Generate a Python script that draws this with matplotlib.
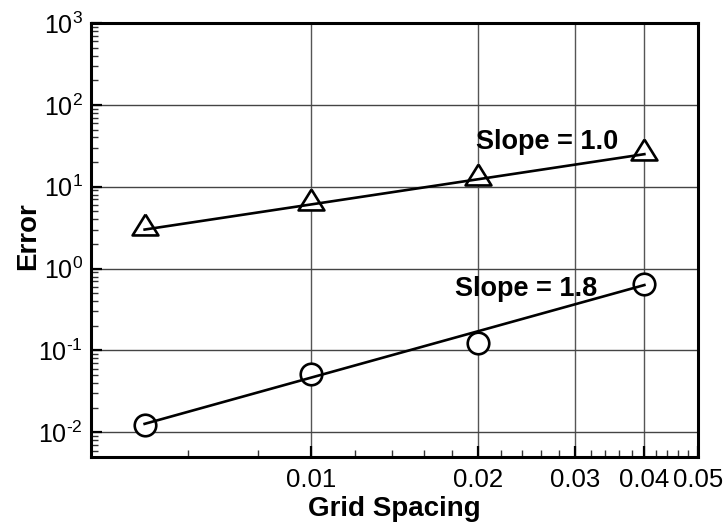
import matplotlib
matplotlib.use("Agg")
import matplotlib.pyplot as plt
from matplotlib.ticker import FixedLocator, FuncFormatter, LogLocator, NullFormatter
import numpy as np

plt.rcParams['font.family'] = ['Liberation Sans', 'DejaVu Sans']
plt.rcParams['mathtext.fontset'] = 'custom'
plt.rcParams['mathtext.rm'] = 'Liberation Sans'
plt.rcParams['mathtext.it'] = 'Liberation Sans'

# ---- data ----
grid_spacing = [0.005, 0.01, 0.02, 0.04]
err_triangle = [3.1, 6.3, 12.8, 25.5]
err_circle = [0.0122, 0.051, 0.125, 0.65]

fit_x = [0.005, 0.04]
fit_triangle = [3.0, 25.0]
fit_circle = [0.0127, 0.63]

x_major = [0.01, 0.02, 0.03, 0.04, 0.05]
x_major_labels = ['0.01', '0.02', '0.03', '0.04', '0.05']
x_minor = [0.004, 0.006, 0.008, 0.012, 0.014, 0.016, 0.018, 0.022, 0.024, 0.026,
           0.028, 0.032, 0.034, 0.036, 0.038, 0.042, 0.044, 0.046, 0.048]
x_grid = [0.01, 0.02, 0.03, 0.04]
y_decades = [-2, -1, 0, 1, 2, 3]

label_slope1 = 'Slope = 1.0'
label_slope2 = 'Slope = 1.8'


def ylab(v, p):
    e = int(round(np.log10(v)))
    if e < 0:
        return r'$\mathregular{10^{\text{-}%d}}$' % (-e)
    return r'$\mathregular{10^{%d}}$' % e


fig = plt.figure(figsize=(7.25, 5.22), dpi=100)
ax = fig.add_axes([91/725, 1-457/522, (698-91)/725, (457-23)/522])
ax.set_xscale('log')
ax.set_yscale('log')
ax.set_xlim(0.004, 0.05)
ax.set_ylim(10**-2.301, 1000)

# grid
for gx in x_grid:
    ax.axvline(gx, color='#555555', lw=1.0, zorder=1)
for d in y_decades:
    ax.axhline(10.0**d, color='#444444', lw=1.0, zorder=1)

# triangle marker centered at centroid
tri = [(0, 2/3), (-0.62, -1/3), (0.62, -1/3), (0, 2/3)]

ax.plot(grid_spacing, err_triangle, linestyle='none', marker=tri, markersize=20,
        markerfacecolor='white', markeredgecolor='black', markeredgewidth=1.9, zorder=3)
ax.plot(grid_spacing, err_circle, linestyle='none', marker='o', markersize=15.5,
        markerfacecolor='white', markeredgecolor='black', markeredgewidth=1.9, zorder=3)
ax.plot(fit_x, fit_triangle, color='black', lw=1.9, zorder=4)
ax.plot(fit_x, fit_circle, color='black', lw=1.9, zorder=4)

ax.text(0.0267, 28.9, label_slope1, fontsize=19.5, fontweight='bold',
        ha='center', va='baseline', zorder=5)
ax.text(0.02445, 0.467, label_slope2, fontsize=19.5, fontweight='bold',
        ha='center', va='baseline', zorder=5)

# ticks
ax.xaxis.set_major_locator(FixedLocator(x_major))
ax.xaxis.set_major_formatter(FuncFormatter(lambda v, p: x_major_labels[x_major.index(min(x_major, key=lambda m: abs(m - v)))]))
ax.xaxis.set_minor_locator(FixedLocator(x_minor))
ax.xaxis.set_minor_formatter(NullFormatter())

ax.yaxis.set_major_locator(FixedLocator([10.0**d for d in y_decades]))
ax.yaxis.set_major_formatter(FuncFormatter(ylab))
ax.yaxis.set_minor_locator(LogLocator(base=10, subs=np.arange(2, 10), numticks=20))
ax.yaxis.set_minor_formatter(NullFormatter())

ax.tick_params(axis='both', which='major', direction='in', length=8, width=1.6,
               top=False, right=False, color='black')
ax.tick_params(axis='both', which='minor', direction='in', length=5, width=1.0,
               top=False, right=False, color='#333333')
ax.tick_params(axis='x', which='major', pad=8, labelsize=18.5)
ax.tick_params(axis='y', which='major', pad=6, labelsize=18)

for s in ax.spines.values():
    s.set_linewidth(2.2)
    s.set_zorder(6)

ax.set_xlabel('Grid Spacing', fontsize=20, fontweight='bold')
ax.set_ylabel('Error', fontsize=20, fontweight='bold')
ax.xaxis.set_label_coords(0.5, -0.090)
ax.yaxis.set_label_coords(-0.082, 0.509)

fig.savefig('out.png', dpi=100)
